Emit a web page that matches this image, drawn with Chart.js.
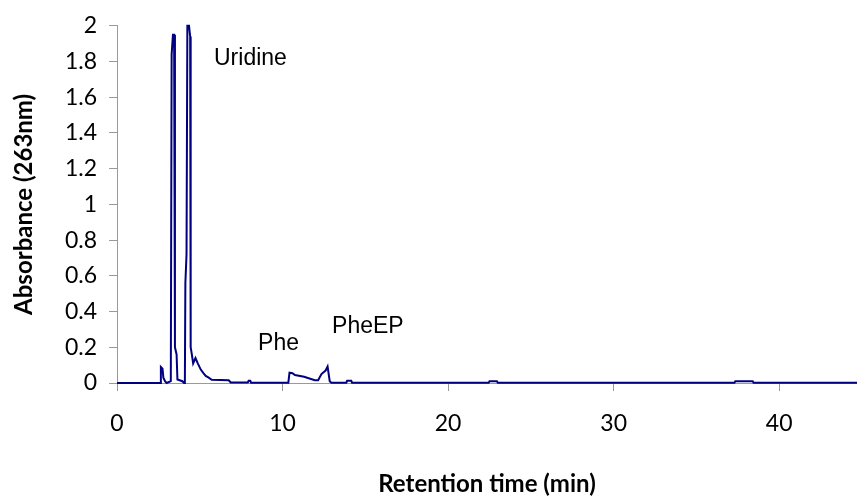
<!DOCTYPE html>
<html>
<head>
<meta charset="utf-8">
<title>Chromatogram</title>
<script src="https://cdn.jsdelivr.net/npm/chart.js@4"></script>
<style>
    html, body { margin: 0; padding: 0; background: #fff; }
    #wrap { width: 857px; height: 502px; }
</style>
</head>
<body>
<div id="wrap"><canvas id="chromChart" width="857" height="502"></canvas></div>
<script>
// retention time (min) and absorbance
const retentionTime = [0, 2.6, 2.65, 2.75, 2.8, 2.9, 3.0, 3.25, 3.3, 3.38, 3.45, 3.5, 3.6, 3.65, 3.95, 4.05,
    4.1, 4.13, 4.2, 4.25, 4.35, 4.42, 4.45, 4.52, 4.6, 4.74, 4.88, 5.06, 5.22, 5.36, 5.54, 5.72, 6.75, 6.87,
    7.9, 7.95, 8.05, 8.1, 10.35, 10.42, 10.6, 10.75, 11.3, 11.95, 12.15, 12.35, 12.6, 12.72, 12.85, 12.95,
    13.85, 13.9, 14.15, 14.2, 22.45, 22.5, 22.95, 23.0, 37.3, 37.35, 38.4, 38.45, 44.7];
const absorbance = [0, 0, 0.09, 0.08, 0.03, 0.01, 0, 0.01, 1.84, 1.95, 1.95, 0.2, 0.16, 0.02, 0.01, 0,
    0.02, 0.56, 0.72, 2.0, 2.0, 1.94, 0.2, 0.16, 0.11, 0.14, 0.11, 0.075, 0.055, 0.04, 0.03, 0.018, 0.015, 0.003,
    0.003, 0.012, 0.012, 0.002, 0.002, 0.058, 0.055, 0.045, 0.035, 0.016, 0.016, 0.05, 0.07, 0.092, 0.01, 0.002,
    0.002, 0.012, 0.012, 0.002, 0.002, 0.01, 0.01, 0.002, 0.002, 0.01, 0.01, 0.002, 0.002];

// peak labels: text, retention time and absorbance where the text sits
const peakNames = ['Uridine', 'Phe', 'PheEP'];
const peakLabelX = [5.86, 8.52, 12.99];
const peakLabelY = [1.815, 0.223, 0.316];

const yTicks = [0, 0.2, 0.4, 0.6, 0.8, 1, 1.2, 1.4, 1.6, 1.8, 2];
const xTicks = [0, 10, 20, 30, 40];

const axisGrey = '#9a9a9a';

// draws the peak names at their data positions
const peakLabels = {
    id: 'peakLabels',
    afterDatasetsDraw(chart) {
        const { ctx, scales } = chart;
        ctx.save();
        ctx.font = '23px "Liberation Sans", Arial, sans-serif';
        ctx.fillStyle = '#000';
        ctx.textAlign = 'left';
        ctx.textBaseline = 'middle';
        peakNames.forEach((name, i) => {
            ctx.fillText(name, scales.x.getPixelForValue(peakLabelX[i]), scales.y.getPixelForValue(peakLabelY[i]));
        });
        ctx.restore();
    }
};

const points = retentionTime.map((t, i) => ({ x: t, y: absorbance[i] }));

new Chart(document.getElementById('chromChart'), {
    type: 'line',
    data: {
        datasets: [{
            data: points,
            borderColor: '#000080',
            borderWidth: 2,
            pointRadius: 0,
            tension: 0,
            fill: false,
            clip: false
        }]
    },
    options: {
        responsive: false,
        animation: false,
        layout: { padding: { top: 16, right: 0, left: 0, bottom: 0 } },
        plugins: {
            legend: { display: false },
            tooltip: { enabled: false }
        },
        scales: {
            x: {
                type: 'linear',
                min: 0,
                max: 44.7,
                afterBuildTicks: (axis) => { axis.ticks = xTicks.map(v => ({ value: v })); },
                afterFit: (axis) => { axis.height = 119; },
                grid: { display: true, drawOnChartArea: false, color: axisGrey, tickLength: 8 },
                border: { color: axisGrey, width: 1 },
                ticks: {
                    color: '#000',
                    padding: 19,
                    maxRotation: 0,
                    font: { family: 'Lato', size: 23 }
                },
                title: {
                    display: true,
                    text: 'Retention time (min)',
                    color: '#000',
                    padding: { top: 0, bottom: 3 },
                    font: { family: 'Lato', size: 24, weight: 'bold' }
                }
            },
            y: {
                min: 0,
                max: 2,
                afterBuildTicks: (axis) => { axis.ticks = yTicks.map(v => ({ value: v })); },
                afterFit: (axis) => { axis.width = 117; },
                grid: { display: true, drawOnChartArea: false, color: axisGrey, tickLength: 8 },
                border: { color: axisGrey, width: 1 },
                ticks: {
                    color: '#000',
                    padding: 12,
                    font: { family: 'Lato', size: 23 },
                    callback: (value) => String(+value.toFixed(1))
                },
                title: {
                    display: true,
                    text: 'Absorbance (263nm)',
                    color: '#000',
                    padding: { top: 10, bottom: 0 },
                    font: { family: 'Lato', size: 24, weight: 'bold' }
                }
            }
        }
    },
    plugins: [peakLabels]
});
</script>
</body>
</html>
